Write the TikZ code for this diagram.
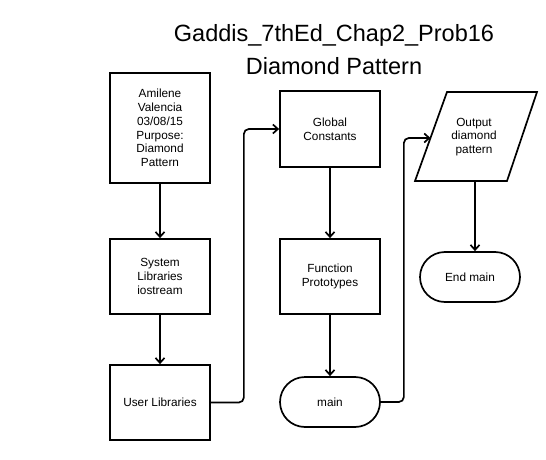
\documentclass[tikz,border=0pt]{standalone}
\usepackage{fontspec}
\setmainfont{Liberation Sans}
\usetikzlibrary{arrows.meta}
\begin{document}
\begin{tikzpicture}[x=1pt,y=-1pt,
 box/.style={draw,line width=1.7pt,minimum width=100pt,align=center,inner sep=0pt,font=\fontsize{11.8}{13.7}\selectfont},
 term/.style={box,rounded corners=25pt,minimum height=50pt},
 conn/.style={line width=1.7pt,-{Straight Barb[length=5pt,width=9pt]},rounded corners=5pt}]
\useasboundingbox (0,0) rectangle (546,460);
\node[font=\fontsize{23.5}{33}\selectfont,align=center] (title) at (334,50) {Gaddis\_7thEd\_Chap2\_Prob16\\Diamond Pattern};
\node[box,minimum height=110pt] (info) at (160,128) {Amilene\\Valencia\\03/08/15\\Purpose:\\Diamond\\Pattern};
\node[box,minimum height=75pt] (sys) at (160,276.5) {System\\Libraries\\iostream};
\node[box,minimum height=75pt] (user) at (160,402.5) {User Libraries};
\node[box,minimum height=76pt] (glob) at (330,129) {Global\\Constants};
\node[box,minimum height=75pt] (func) at (330,276.5) {Function\\Prototypes};
\node[term] (main) at (330,402) {main};
\node[term] (endm) at (470,277) {End main};
\draw[line width=1.7pt] (447,92) -- (537,92) -- (507,181) -- (415,181) -- cycle;
\node[font=\fontsize{11.8}{13.7}\selectfont,align=center] (out) at (474,137) {Output\\diamond\\pattern};
\coordinate (pin) at (430.5,138);
\coordinate (pout) at (475,181);
\draw[conn] (info) -- (sys);
\draw[conn] (sys) -- (user);
\draw[conn] (user.east) -- ++(33,0) |- (glob.west);
\draw[conn] (glob) -- (func);
\draw[conn] (func) -- (main);
\draw[conn] (main.east) -- ++(23,0) |- (pin);
\draw[conn] (pout) -- (pout |- endm.north);
\end{tikzpicture}
\end{document}
